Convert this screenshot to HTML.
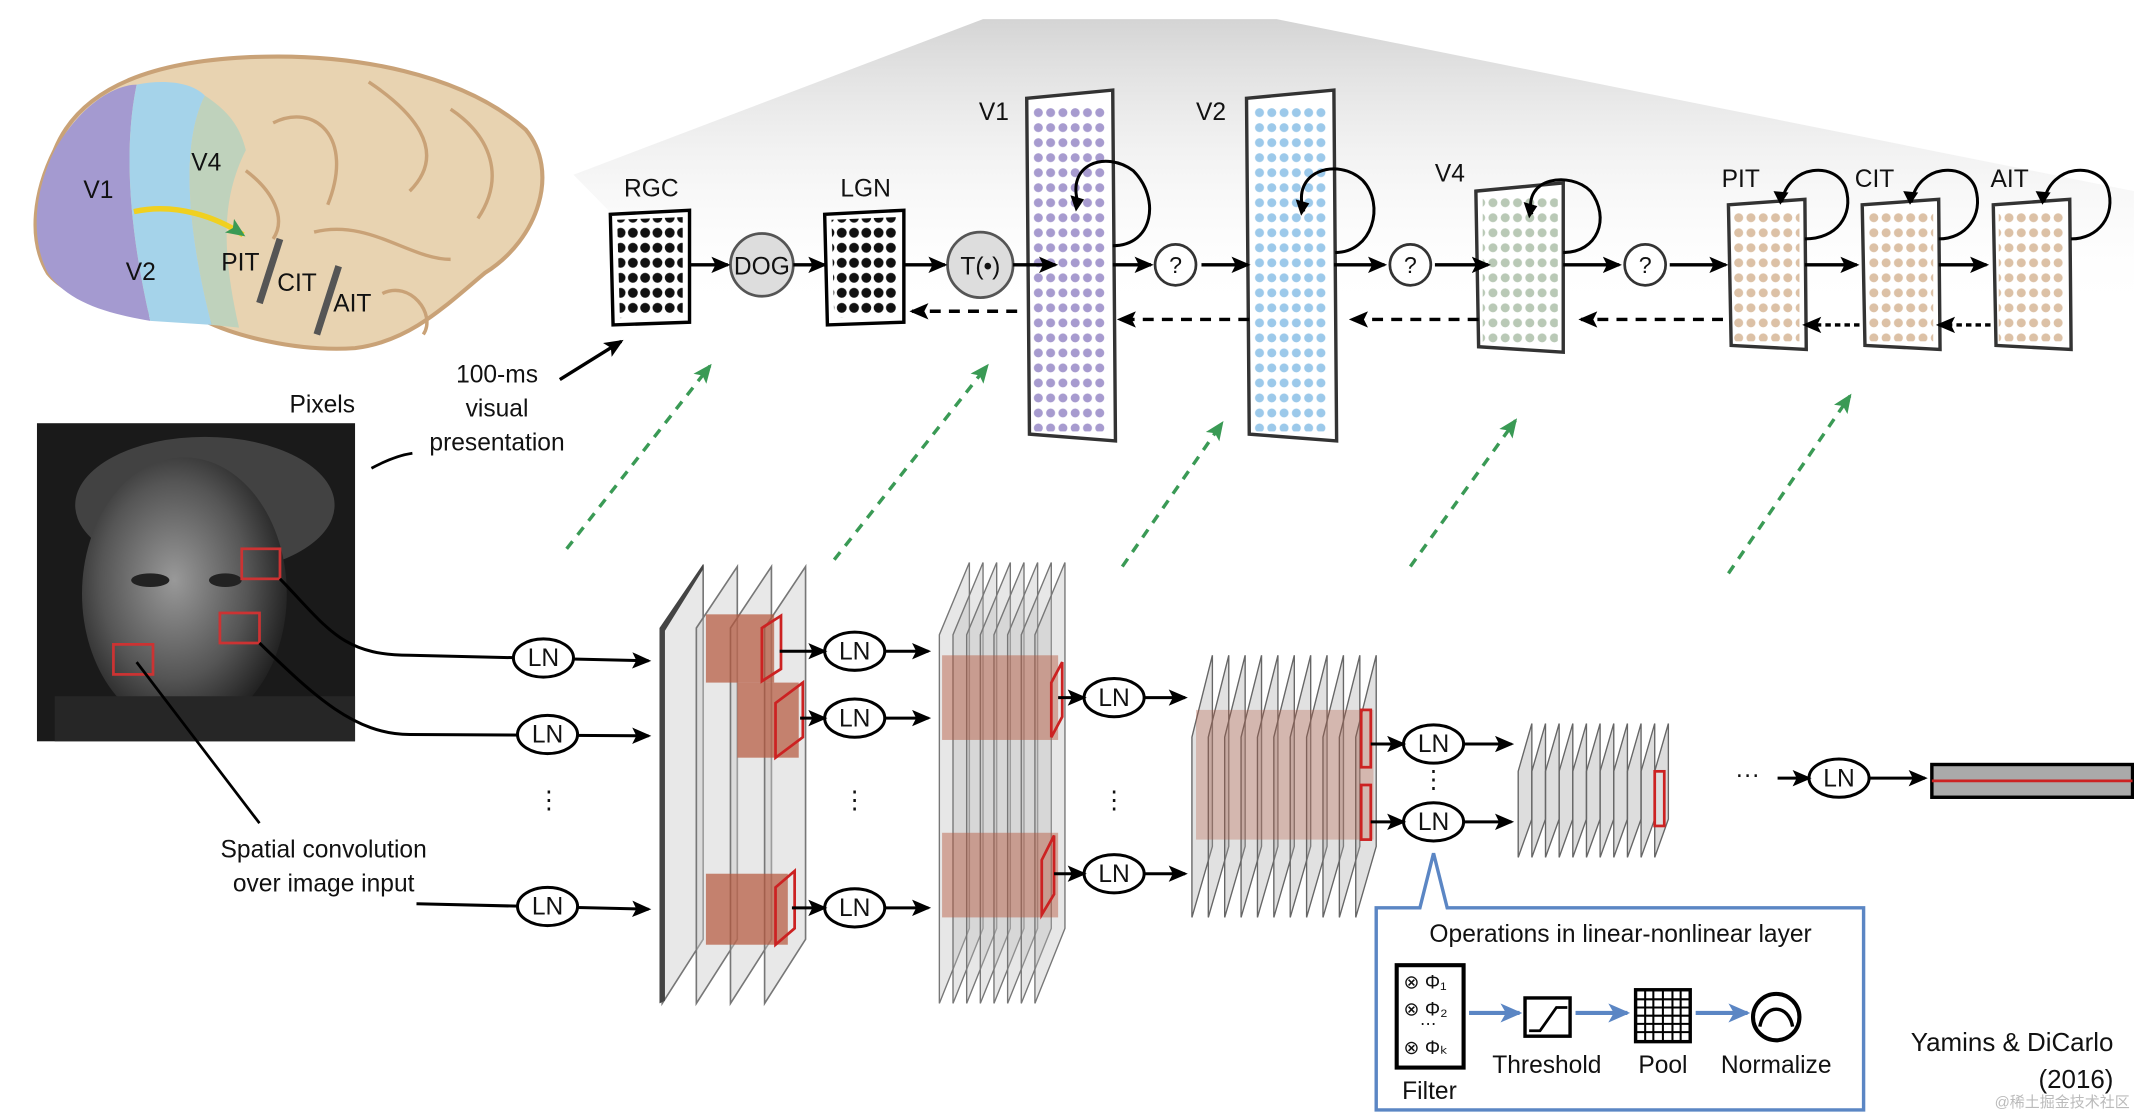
<!DOCTYPE html>
<html><head><meta charset="utf-8"><style>
html,body{margin:0;padding:0;background:#fff;}
svg{display:block}
text{font-family:"Liberation Sans",sans-serif;fill:#111}
</style></head><body>
<svg width="2134" height="1114" viewBox="0 0 1563 816" xmlns="http://www.w3.org/2000/svg">
<defs>
<linearGradient id="fan" x1="0" y1="0" x2="0" y2="1">
<stop offset="0" stop-color="#d4d4d4"/><stop offset="1" stop-color="#fff" stop-opacity="0"/></linearGradient>
<pattern id="pk" width="9" height="11" patternUnits="userSpaceOnUse"><circle cx="4.5" cy="5.5" r="3.6" fill="#111"/></pattern>
<pattern id="pp" width="9" height="11" patternUnits="userSpaceOnUse"><circle cx="4.5" cy="5.5" r="3.3" fill="#a79bcf"/></pattern>
<pattern id="pb" width="9" height="11" patternUnits="userSpaceOnUse"><circle cx="4.5" cy="5.5" r="3.3" fill="#9cc9ea"/></pattern>
<pattern id="pg" width="9" height="11" patternUnits="userSpaceOnUse"><circle cx="4.5" cy="5.5" r="3.3" fill="#b9c9b6"/></pattern>
<pattern id="pt" width="9" height="11" patternUnits="userSpaceOnUse"><circle cx="4.5" cy="5.5" r="3.3" fill="#dcc1a6"/></pattern>
<marker id="ahl" markerWidth="14" markerHeight="12" refX="12" refY="6" orient="auto" markerUnits="userSpaceOnUse"><path d="M0,0 L14,6 L0,12 L3,6Z" fill="#000"/></marker>
<marker id="ag" markerWidth="14" markerHeight="12" refX="12" refY="6" orient="auto" markerUnits="userSpaceOnUse"><path d="M0,0 L14,6 L0,12 L3,6Z" fill="#3a9a55"/></marker>
<marker id="ab" markerWidth="16" markerHeight="14" refX="14" refY="7" orient="auto" markerUnits="userSpaceOnUse"><path d="M0,0 L16,7 L0,14 L4,7Z" fill="#5b86c4"/></marker>
<radialGradient id="face" cx="0.45" cy="0.45" r="0.6"><stop offset="0" stop-color="#999"/><stop offset="0.6" stop-color="#555"/><stop offset="1" stop-color="#1a1a1a"/></radialGradient>
</defs>

<polygon points="720,14 935,14 1563,140 1563,230 420,230 420,128" fill="url(#fan)"/>
<polygon points="420,128 420,230 520,230" fill="#fff"/>

<path d="M40,110 C60,60 120,45 180,42 C260,38 340,55 385,95 C410,125 395,175 355,200 C325,225 300,250 260,255 C215,258 170,245 150,235 C110,230 55,225 35,200 C20,175 25,140 40,110Z" fill="#e8d3b1" stroke="#c9a277" stroke-width="3"/>
<path d="M40,110 C60,75 85,62 100,62 C90,110 95,170 110,235 C80,230 50,222 35,200 C22,175 25,140 40,110Z" fill="#a49ad0"/>
<path d="M100,62 C120,58 140,60 150,70 C130,110 140,180 155,238 L110,235 C95,170 90,110 100,62Z" fill="#a5d3ea"/>
<path d="M150,70 C165,80 175,90 180,110 C165,140 160,175 175,240 L155,238 C140,180 130,110 150,70Z" fill="#bfd2bc"/>
<g fill="none" stroke="#c9a277" stroke-width="2.5">
<path d="M200,90 C230,75 260,100 240,150"/><path d="M270,60 C300,80 330,110 300,140"/><path d="M330,80 C360,100 370,130 350,160"/><path d="M230,170 C270,160 300,190 330,190"/><path d="M180,125 C200,140 210,160 200,175"/><path d="M280,215 C300,205 320,230 310,245"/>
</g>
<path d="M98,155 C130,148 160,160 178,172" stroke="#f0d020" stroke-width="4" fill="none" marker-end="url(#ag)"/>
<line x1="205" y1="175" x2="190" y2="222" stroke="#555" stroke-width="5"/>
<line x1="248" y1="195" x2="232" y2="245" stroke="#555" stroke-width="5"/>
<text x="61" y="145" font-size="18">V1</text><text x="92" y="205" font-size="18">V2</text>
<text x="140" y="125" font-size="18">V4</text><text x="162" y="198" font-size="18">PIT</text>
<text x="203" y="213" font-size="18">CIT</text><text x="244" y="228" font-size="18">AIT</text>

<text x="364" y="280" font-size="18" text-anchor="middle">100-ms</text>
<text x="364" y="305" font-size="18" text-anchor="middle">visual</text>
<text x="364" y="330" font-size="18" text-anchor="middle">presentation</text>
<line x1="410" y1="278" x2="455" y2="250" stroke="#000" stroke-width="2.5" marker-end="url(#ahl)"/>
<path d="M272,343 C285,336 295,333 302,332" stroke="#000" stroke-width="2" fill="none"/>
<text x="236" y="302" font-size="18" text-anchor="middle">Pixels</text>

<rect x="27" y="310" width="233" height="233" fill="#1a1a1a"/>
<ellipse cx="150" cy="370" rx="95" ry="50" fill="#6a6a6a" opacity="0.5"/>
<ellipse cx="135" cy="435" rx="75" ry="100" fill="url(#face)"/>
<rect x="40" y="510" width="220" height="33" fill="#262626"/>
<ellipse cx="110" cy="425" rx="14" ry="5" fill="#222"/><ellipse cx="165" cy="425" rx="12" ry="5" fill="#222"/>
<g fill="none" stroke="#c33" stroke-width="2"><rect x="177" y="402" width="28" height="22"/><rect x="161" y="449" width="29" height="22"/><rect x="83" y="472" width="29" height="22"/></g>
<path d="M205,424 C240,460 250,480 300,480 L475,484" stroke="#000" stroke-width="2.2" fill="none" marker-end="url(#ahl)"/>
<path d="M190,471 C230,510 260,538 300,538 L475,539" stroke="#000" stroke-width="2.2" fill="none" marker-end="url(#ahl)"/>
<line x1="100" y1="485" x2="190" y2="603" stroke="#000" stroke-width="2"/>
<path d="M305,662 L475,666" stroke="#000" stroke-width="2.2" fill="none" marker-end="url(#ahl)"/>
<text x="237" y="628" font-size="18" text-anchor="middle">Spatial convolution</text>
<text x="237" y="653" font-size="18" text-anchor="middle">over image input</text>

<g stroke="#000" stroke-width="2.5" fill="none">
<polygon points="447,157 505,154 505,236 449,238" fill="#fff"/>
<polygon points="604,157 662,154 662,236 606,238" fill="#fff"/>
</g>
<polygon points="452,161 500,159 500,231 454,233" fill="url(#pk)"/>
<polygon points="609,161 657,159 657,231 611,233" fill="url(#pk)"/>
<text x="477" y="144" font-size="18" text-anchor="middle">RGC</text>
<text x="634" y="144" font-size="18" text-anchor="middle">LGN</text>
<circle cx="558" cy="194" r="23" fill="#ddd" stroke="#555" stroke-width="2"/><text x="558" y="201" font-size="18" text-anchor="middle">DOG</text>
<circle cx="718" cy="194" r="24" fill="#ddd" stroke="#555" stroke-width="2"/><text x="718" y="201" font-size="18" text-anchor="middle">T(•)</text>

<g stroke="#333" stroke-width="2.5">
<polygon points="752,72 815,66 817,323 754,318" fill="#fff"/>
<polygon points="913,72 977,66 979,323 915,318" fill="#fff"/>
<polygon points="1081,140 1145,134 1145,258 1083,254" fill="#fff"/>
<polygon points="1266,150 1322,146 1323,256 1268,253" fill="#fff"/>
<polygon points="1364,150 1420,146 1421,256 1366,253" fill="#fff"/>
<polygon points="1460,150 1516,146 1517,256 1462,253" fill="#fff"/>
</g>
<rect x="757" y="76" width="54" height="240" fill="url(#pp)"/>
<rect x="918" y="76" width="55" height="240" fill="url(#pb)"/>
<rect x="1086" y="142" width="55" height="110" fill="url(#pg)"/>
<rect x="1270" y="152" width="48" height="98" fill="url(#pt)"/>
<rect x="1368" y="152" width="48" height="98" fill="url(#pt)"/>
<rect x="1464" y="152" width="48" height="98" fill="url(#pt)"/>
<text x="728" y="88" font-size="18" text-anchor="middle">V1</text>
<text x="887" y="88" font-size="18" text-anchor="middle">V2</text>
<text x="1062" y="133" font-size="18" text-anchor="middle">V4</text>
<text x="1275" y="137" font-size="18" text-anchor="middle">PIT</text>
<text x="1373" y="137" font-size="18" text-anchor="middle">CIT</text>
<text x="1472" y="137" font-size="18" text-anchor="middle">AIT</text>
<g fill="none" stroke="#000" stroke-width="2.2">
<path d="M790,150 C780,120 810,110 830,125 C850,145 845,180 815,180"/>
<path d="M955,155 C945,125 980,115 998,132 C1015,150 1005,185 978,185"/>
<path d="M1122,157 C1115,130 1150,125 1165,140 C1180,160 1170,185 1145,185"/>
<path d="M1305,148 C1310,120 1345,118 1352,138 C1358,158 1345,175 1322,175"/>
<path d="M1400,148 C1405,120 1440,118 1447,138 C1453,158 1440,175 1420,175"/>
<path d="M1497,148 C1502,120 1537,118 1544,138 C1550,158 1537,175 1517,175"/>
</g>
<g fill="#000"><path d="M788,155 l-4,-12 l10,3z"/><path d="M953,158 l-4,-12 l10,3z"/><path d="M1120,160 l-4,-12 l10,3z"/><path d="M1304,150 l-5,-10 l11,1z"/><path d="M1399,150 l-5,-10 l11,1z"/><path d="M1496,150 l-5,-10 l11,1z"/></g>
<g stroke="#000" stroke-width="2.5" marker-end="url(#ahl)">
<line x1="505" y1="194" x2="533" y2="194"/><line x1="581" y1="194" x2="604" y2="194"/>
<line x1="662" y1="194" x2="692" y2="194"/><line x1="742" y1="194" x2="773" y2="194"/>
<line x1="815" y1="194" x2="843" y2="194"/><line x1="880" y1="194" x2="914" y2="194"/>
<line x1="977" y1="194" x2="1014" y2="194"/><line x1="1051" y1="194" x2="1090" y2="194"/>
<line x1="1145" y1="194" x2="1186" y2="194"/><line x1="1223" y1="194" x2="1264" y2="194"/>
<line x1="1322" y1="194" x2="1360" y2="194"/><line x1="1420" y1="194" x2="1455" y2="194"/>
</g>
<g fill="#fff" stroke="#333" stroke-width="2"><circle cx="861" cy="194" r="15"/><circle cx="1033" cy="194" r="15"/><circle cx="1205" cy="194" r="15"/></g>
<text x="861" y="200" font-size="17" text-anchor="middle">?</text><text x="1033" y="200" font-size="17" text-anchor="middle">?</text><text x="1205" y="200" font-size="17" text-anchor="middle">?</text>
<g stroke="#000" stroke-width="2.5" stroke-dasharray="8,6" marker-end="url(#ahl)">
<line x1="745" y1="228" x2="668" y2="228"/><line x1="915" y1="234" x2="820" y2="234"/>
<line x1="1083" y1="234" x2="990" y2="234"/><line x1="1262" y1="234" x2="1158" y2="234"/>
<line x1="1362" y1="238" x2="1322" y2="238" stroke-dasharray="4,3"/><line x1="1458" y1="238" x2="1420" y2="238" stroke-dasharray="4,3"/>
</g>
<g stroke="#3a9a55" stroke-width="2.5" stroke-dasharray="7,6" marker-end="url(#ag)">
<line x1="415" y1="402" x2="520" y2="268"/><line x1="611" y1="410" x2="723" y2="268"/>
<line x1="822" y1="415" x2="895" y2="310"/><line x1="1033" y1="415" x2="1110" y2="308"/>
<line x1="1266" y1="420" x2="1355" y2="290"/>
</g>

<g stroke="#777" stroke-width="1.2" fill="#ccc" fill-opacity="0.45">
<polygon points="485,460 515,415 515,688 485,735"/>
<polygon points="510,460 540,415 540,688 510,735"/>
<polygon points="535,460 565,415 565,688 535,735"/>
<polygon points="560,460 590,415 590,688 560,735"/>
</g>
<polygon points="483,460 515,413 515,417 487,462 487,733 483,735" fill="#444"/>
<g fill="#b5553a" fill-opacity="0.7"><rect x="517" y="450" width="50" height="50"/><rect x="540" y="500" width="45" height="55"/><rect x="517" y="640" width="60" height="52"/></g>
<g fill="none" stroke="#c22" stroke-width="2"><polygon points="558,460 572,451 572,490 558,499"/><polygon points="568,515 588,500 588,540 568,555"/><polygon points="568,650 582,638 582,680 568,692"/></g>
<g stroke="#777" stroke-width="1" fill="#bbb" fill-opacity="0.35">
<polygon points="688,465 710,412 710,680 688,735"/><polygon points="698,465 720,412 720,680 698,735"/><polygon points="708,465 730,412 730,680 708,735"/><polygon points="718,465 740,412 740,680 718,735"/><polygon points="728,465 750,412 750,680 728,735"/><polygon points="738,465 760,412 760,680 738,735"/><polygon points="748,465 770,412 770,680 748,735"/><polygon points="758,465 780,412 780,680 758,735"/>
</g>
<g fill="#b5553a" fill-opacity="0.45"><rect x="690" y="480" width="85" height="62"/><rect x="690" y="610" width="85" height="62"/></g>
<g fill="none" stroke="#c22" stroke-width="2"><polygon points="770,500 778,485 778,525 770,540"/><polygon points="763,630 772,612 772,655 763,670"/></g>
<g stroke="#666" stroke-width="1" fill="#aaa" fill-opacity="0.35">
<polygon points="873,540 888,480 888,620 873,672"/><polygon points="885,540 900,480 900,620 885,672"/><polygon points="897,540 912,480 912,620 897,672"/><polygon points="909,540 924,480 924,620 909,672"/><polygon points="921,540 936,480 936,620 921,672"/><polygon points="933,540 948,480 948,620 933,672"/><polygon points="945,540 960,480 960,620 945,672"/><polygon points="957,540 972,480 972,620 957,672"/><polygon points="969,540 984,480 984,620 969,672"/><polygon points="981,540 996,480 996,620 981,672"/><polygon points="993,540 1008,480 1008,620 993,672"/>
</g>
<rect x="876" y="520" width="130" height="95" fill="#b5553a" fill-opacity="0.3"/>
<g fill="none" stroke="#c22" stroke-width="2"><rect x="997" y="520" width="7" height="42"/><rect x="997" y="575" width="7" height="40"/></g>
<g stroke="#666" stroke-width="1" fill="#aaa" fill-opacity="0.4">
<polygon points="1112,565 1122,530 1122,600 1112,628"/><polygon points="1122,565 1132,530 1132,600 1122,628"/><polygon points="1132,565 1142,530 1142,600 1132,628"/><polygon points="1142,565 1152,530 1152,600 1142,628"/><polygon points="1152,565 1162,530 1162,600 1152,628"/><polygon points="1162,565 1172,530 1172,600 1162,628"/><polygon points="1172,565 1182,530 1182,600 1172,628"/><polygon points="1182,565 1192,530 1192,600 1182,628"/><polygon points="1192,565 1202,530 1202,600 1192,628"/><polygon points="1202,565 1212,530 1212,600 1202,628"/><polygon points="1212,565 1222,530 1222,600 1212,628"/>
</g>
<rect x="1212" y="565" width="7" height="40" fill="none" stroke="#c22" stroke-width="2"/>
<rect x="1415" y="560" width="147" height="24" fill="#aaa" stroke="#000" stroke-width="2.5"/>
<line x1="1415" y1="572" x2="1562" y2="572" stroke="#c22" stroke-width="2"/>

<g font-size="18" text-anchor="middle">
<g fill="#fff" stroke="#000" stroke-width="2.2">
<ellipse cx="398" cy="482" rx="22" ry="14"/><ellipse cx="401" cy="538" rx="22" ry="14"/><ellipse cx="401" cy="664" rx="22" ry="14"/>
<ellipse cx="626" cy="477" rx="22" ry="14"/><ellipse cx="626" cy="526" rx="22" ry="14"/><ellipse cx="626" cy="665" rx="22" ry="14"/>
<ellipse cx="816" cy="511" rx="22" ry="14"/><ellipse cx="816" cy="640" rx="22" ry="14"/>
<ellipse cx="1050" cy="545" rx="22" ry="14"/><ellipse cx="1050" cy="602" rx="22" ry="14"/><ellipse cx="1347" cy="570" rx="22" ry="14"/>
</g>
<text x="398" y="488">LN</text><text x="401" y="544">LN</text><text x="401" y="670">LN</text>
<text x="626" y="483">LN</text><text x="626" y="532">LN</text><text x="626" y="671">LN</text>
<text x="816" y="517">LN</text><text x="816" y="646">LN</text>
<text x="1050" y="551">LN</text><text x="1050" y="608">LN</text><text x="1347" y="576">LN</text>
<text x="402" y="592">⋮</text><text x="626" y="592">⋮</text><text x="816" y="592">⋮</text><text x="1050" y="577">⋮</text><text x="1280" y="573">···</text>
</g>
<g stroke="#000" stroke-width="2.2" marker-end="url(#ahl)">
<line x1="571" y1="477" x2="604" y2="477"/><line x1="648" y1="477" x2="680" y2="477"/>
<line x1="586" y1="526" x2="604" y2="526"/><line x1="648" y1="526" x2="680" y2="526"/>
<line x1="580" y1="665" x2="604" y2="665"/><line x1="648" y1="665" x2="680" y2="665"/>
<line x1="775" y1="511" x2="794" y2="511"/><line x1="838" y1="511" x2="868" y2="511"/>
<line x1="772" y1="640" x2="794" y2="640"/><line x1="838" y1="640" x2="868" y2="640"/>
<line x1="1004" y1="545" x2="1028" y2="545"/><line x1="1072" y1="545" x2="1107" y2="545"/>
<line x1="1004" y1="602" x2="1028" y2="602"/><line x1="1072" y1="602" x2="1107" y2="602"/>
<line x1="1302" y1="570" x2="1325" y2="570"/><line x1="1369" y1="570" x2="1410" y2="570"/>
</g>

<path d="M1008,665 L1040,665 L1050,625 L1060,665 L1365,665 L1365,813 L1008,813 Z" fill="#fff" stroke="#5b86c4" stroke-width="2.5"/>
<text x="1187" y="690" font-size="18" text-anchor="middle">Operations in linear-nonlinear layer</text>
<rect x="1023" y="707" width="49" height="75" fill="#fff" stroke="#000" stroke-width="3"/>
<text x="1028" y="724" font-size="14">⊗ Φ₁</text><text x="1028" y="744" font-size="14">⊗ Φ₂</text><text x="1040" y="754" font-size="12">⋯</text><text x="1028" y="772" font-size="14">⊗ Φₖ</text>
<text x="1047" y="805" font-size="18" text-anchor="middle">Filter</text>
<rect x="1117" y="731" width="33" height="28" fill="#fff" stroke="#000" stroke-width="2.5"/>
<path d="M1120,755 L1128,755 L1140,738 L1148,738" fill="none" stroke="#000" stroke-width="2"/>
<text x="1133" y="786" font-size="18" text-anchor="middle">Threshold</text>
<rect x="1198" y="725" width="40" height="38" fill="#fff" stroke="#000" stroke-width="2.5"/>
<g stroke="#000" stroke-width="1.5"><line x1="1205" y1="725" x2="1205" y2="763"/><line x1="1211" y1="725" x2="1211" y2="763"/><line x1="1218" y1="725" x2="1218" y2="763"/><line x1="1225" y1="725" x2="1225" y2="763"/><line x1="1231" y1="725" x2="1231" y2="763"/><line x1="1198" y1="732" x2="1238" y2="732"/><line x1="1198" y1="738" x2="1238" y2="738"/><line x1="1198" y1="744" x2="1238" y2="744"/><line x1="1198" y1="750" x2="1238" y2="750"/><line x1="1198" y1="756" x2="1238" y2="756"/></g>
<text x="1218" y="786" font-size="18" text-anchor="middle">Pool</text>
<circle cx="1301" cy="745" r="17" fill="#fff" stroke="#000" stroke-width="3"/>
<path d="M1289,752 C1292,735 1310,735 1313,752" fill="none" stroke="#000" stroke-width="2.5"/>
<text x="1301" y="786" font-size="18" text-anchor="middle">Normalize</text>
<g stroke="#5b86c4" stroke-width="3" marker-end="url(#ab)">
<line x1="1076" y1="742" x2="1113" y2="742"/><line x1="1154" y1="742" x2="1192" y2="742"/><line x1="1242" y1="742" x2="1280" y2="742"/>
</g>

<text x="1548" y="770" font-size="19" text-anchor="end">Yamins &amp; DiCarlo</text>
<text x="1548" y="797" font-size="19" text-anchor="end">(2016)</text>
<text x="1560" y="811" font-size="11" text-anchor="end" style="fill:#bbb">@稀土掘金技术社区</text>
</svg>
</body></html>
